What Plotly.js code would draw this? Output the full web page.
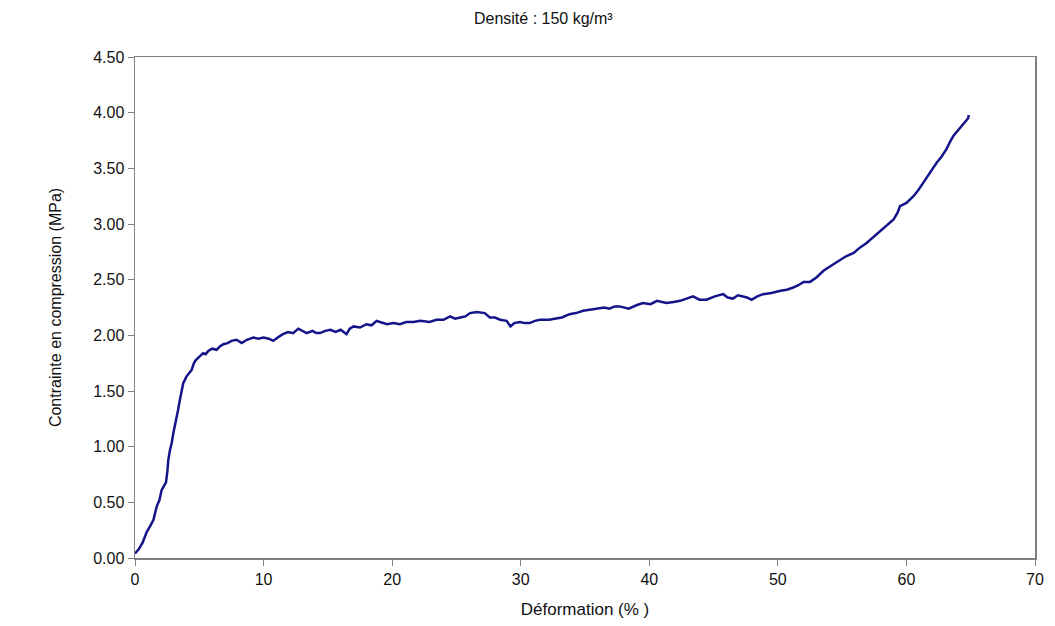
<!DOCTYPE html>
<html>
<head>
<meta charset="utf-8">
<script src="https://cdn.plot.ly/plotly-3.0.1.min.js"></script>
<style>html,body{margin:0;padding:0;background:#fff;}#chart{width:1055px;height:626px;}</style>
</head>
<body>
<div id="chart"></div>
<script>
const deformation = [0.0, 0.3, 0.6, 0.9, 1.2, 1.43, 1.68, 1.9, 2.07, 2.25, 2.41, 2.52, 2.59, 2.72, 2.85, 2.98, 3.1, 3.24, 3.35, 3.44, 3.6, 3.75, 3.88, 4.0, 4.2, 4.41, 4.55, 4.67, 4.85, 5.06, 5.3, 5.5, 5.7, 6.0, 6.35, 6.6, 6.87, 7.2, 7.5, 7.9, 8.3, 8.7, 9.2, 9.6, 10.0, 10.4, 10.75, 11.1, 11.5, 11.9, 12.3, 12.7, 13.0, 13.35, 13.8, 14.1, 14.4, 14.8, 15.2, 15.6, 16.0, 16.45, 16.7, 17.0, 17.5, 18.0, 18.4, 18.8, 19.05, 19.3, 19.6, 20.1, 20.6, 21.1, 21.65, 22.2, 22.9, 23.45, 24.0, 24.5, 24.9, 25.3, 25.7, 26.05, 26.6, 27.2, 27.6, 28.0, 28.4, 28.9, 29.2, 29.5, 29.95, 30.3, 30.7, 31.1, 31.5, 32.2, 32.8, 33.2, 33.8, 34.3, 34.85, 35.5, 36.2, 36.5, 36.9, 37.3, 37.7, 38.0, 38.4, 39.0, 39.5, 40.1, 40.6, 41.0, 41.35, 41.9, 42.4, 42.9, 43.4, 43.9, 44.45, 45.1, 45.75, 46.1, 46.5, 46.9, 47.3, 47.6, 47.95, 48.4, 48.85, 49.5, 50.2, 50.7, 51.2, 51.6, 52.0, 52.5, 53.0, 53.55, 54.2, 54.8, 55.3, 55.9, 56.4, 56.9, 57.4, 57.95, 58.5, 59.0, 59.3, 59.5, 60.0, 60.55, 60.9, 61.3, 61.8, 62.35, 62.7, 63.1, 63.4, 63.65, 64.0, 64.3, 64.5, 64.8, 64.85];
const contrainte = [0.04, 0.08, 0.14, 0.23, 0.29, 0.34, 0.46, 0.52, 0.61, 0.65, 0.68, 0.78, 0.88, 0.97, 1.03, 1.12, 1.18, 1.27, 1.33, 1.39, 1.49, 1.57, 1.60, 1.63, 1.66, 1.69, 1.74, 1.77, 1.79, 1.81, 1.84, 1.83, 1.86, 1.88, 1.87, 1.90, 1.92, 1.93, 1.95, 1.96, 1.93, 1.96, 1.98, 1.97, 1.98, 1.97, 1.95, 1.98, 2.01, 2.03, 2.02, 2.06, 2.04, 2.02, 2.04, 2.02, 2.02, 2.04, 2.05, 2.03, 2.05, 2.01, 2.06, 2.08, 2.07, 2.10, 2.09, 2.13, 2.12, 2.11, 2.10, 2.11, 2.10, 2.12, 2.12, 2.13, 2.12, 2.14, 2.14, 2.17, 2.15, 2.16, 2.17, 2.20, 2.21, 2.20, 2.16, 2.16, 2.14, 2.13, 2.08, 2.11, 2.12, 2.11, 2.11, 2.13, 2.14, 2.14, 2.15, 2.16, 2.19, 2.20, 2.22, 2.23, 2.24, 2.25, 2.24, 2.26, 2.26, 2.25, 2.24, 2.27, 2.29, 2.28, 2.31, 2.30, 2.29, 2.30, 2.31, 2.33, 2.35, 2.32, 2.32, 2.35, 2.37, 2.34, 2.33, 2.36, 2.35, 2.34, 2.32, 2.35, 2.37, 2.38, 2.40, 2.41, 2.43, 2.45, 2.48, 2.48, 2.52, 2.58, 2.63, 2.67, 2.71, 2.74, 2.79, 2.83, 2.88, 2.94, 2.99, 3.04, 3.10, 3.16, 3.19, 3.25, 3.30, 3.37, 3.45, 3.55, 3.60, 3.67, 3.74, 3.79, 3.84, 3.88, 3.91, 3.95, 3.98];
const xTicks = [0, 10, 20, 30, 40, 50, 60, 70];
const yTicks = [0, 0.5, 1.0, 1.5, 2.0, 2.5, 3.0, 3.5, 4.0, 4.5];

const fam = 'Liberation Sans, Arial, sans-serif';
const axisStyle = {
  showline: true, linecolor: '#808080', linewidth: 1.5, mirror: true,
  ticks: 'outside', ticklen: 6, tickcolor: '#808080', tickwidth: 1,
  showgrid: false, zeroline: false,
  tickfont: {family: fam, size: 16, color: '#111'}
};

Plotly.newPlot('chart', [{
  x: deformation, y: contrainte, type: 'scatter', mode: 'lines',
  line: {color: '#14148a', width: 2.5}
}], {
  width: 1055, height: 626,
  margin: {l: 135, r: 20, t: 57, b: 68},
  paper_bgcolor: '#fff', plot_bgcolor: '#fff',
  showlegend: false,
  title: {text: 'Densité : 150 kg/m³', x: 0.515, xanchor: 'center', y: 0.97, yanchor: 'middle',
    font: {family: fam, size: 16, color: '#111'}},
  xaxis: Object.assign({}, axisStyle, {
    range: [0, 70], tickvals: xTicks, ticktext: xTicks.map(String),
    title: {text: 'Déformation (% )', standoff: 16,
      font: {family: fam, size: 17, color: '#111'}}
  }),
  yaxis: Object.assign({}, axisStyle, {
    range: [0, 4.5], tickvals: yTicks, ticktext: yTicks.map(v => v.toFixed(2)),
    title: {text: 'Contrainte en compression (MPa)', standoff: 27,
      font: {family: 'Liberation Sans Narrow, ' + fam, size: 16, color: '#111'}}
  })
}, {displayModeBar: false, staticPlot: true});
</script>
</body>
</html>
